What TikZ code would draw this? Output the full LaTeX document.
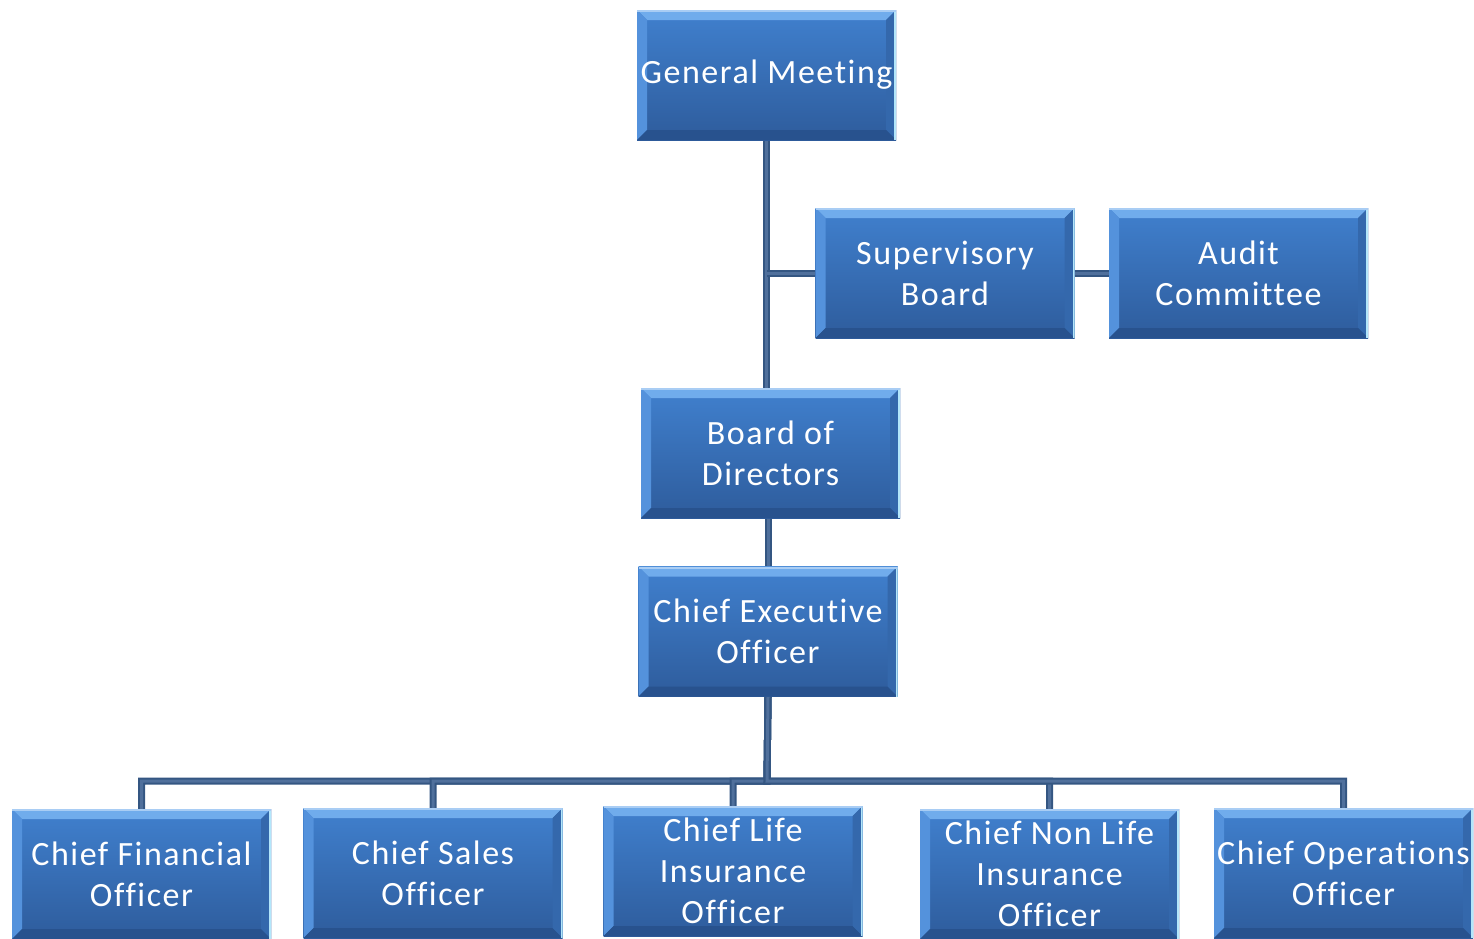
\documentclass[tikz,border=0pt]{standalone}
\usepackage{fontspec}
\setmainfont{Carlito}[LetterSpace=4.5,Ligatures={NoCommon}]
\usetikzlibrary{backgrounds,calc}
\definecolor{boxtop}{RGB}{64,128,206}
\definecolor{boxbot}{RGB}{46,92,156}
\definecolor{bevtop}{RGB}{112,172,236}
\definecolor{bevleft}{RGB}{84,146,220}
\definecolor{bevright}{RGB}{52,104,172}
\definecolor{bevbot}{RGB}{40,82,142}
\definecolor{lineout}{RGB}{52,86,130}
\definecolor{linein}{RGB}{80,112,156}
\tikzset{
  orgbox/.style={rectangle, inner sep=0pt, minimum width=259pt, minimum height=130pt,
    top color=boxtop, bottom color=boxbot, text=white, align=center,
    font=\fontsize{34}{41}\selectfont,
    path picture={
      \path (path picture bounding box.north west) coordinate (bnw)
            (path picture bounding box.north east) coordinate (bne)
            (path picture bounding box.south west) coordinate (bsw)
            (path picture bounding box.south east) coordinate (bse);
      \fill[bevtop] (bnw) -- (bne) -- ([shift={(-10pt,-10pt)}]bne) -- ([shift={(10pt,-10pt)}]bnw) -- cycle;
      \fill[bevleft] (bnw) -- ([shift={(10pt,-10pt)}]bnw) -- ([shift={(10pt,10pt)}]bsw) -- (bsw) -- cycle;
      \fill[bevright] (bne) -- ([shift={(-10pt,-10pt)}]bne) -- ([shift={(-10pt,10pt)}]bse) -- (bse) -- cycle;
      \fill[bevbot] (bsw) -- ([shift={(10pt,10pt)}]bsw) -- ([shift={(-10pt,10pt)}]bse) -- (bse) -- cycle;
      \fill[white!70!cyan] ([shift={(-2pt,0pt)}]bne) rectangle (bse);
      \fill[bevtop!60!white] (bnw) rectangle ([shift={(0pt,-2pt)}]bne);
    }},
  conn/.style={draw=lineout, line width=2pt, double=linein, double distance=3pt}
}
\begin{document}
\begin{tikzpicture}[x=1pt,y=-1pt]
\useasboundingbox (0,0) rectangle (1474,938);
\node[orgbox] (gm) at (766.5,75) {General Meeting};
\node[orgbox] (sb) at (945,273) {Supervisory\\Board};
\node[orgbox] (ac) at (1238.5,273) {Audit\\Committee};
\node[orgbox] (bod) at (770.5,453) {Board of\\Directors};
\node[orgbox] (ceo) at (768,631.5) {Chief Executive\\Officer};
\node[orgbox] (cfo) at (141.5,874) {Chief Financial\\Officer};
\node[orgbox] (cso) at (433,873) {Chief Sales\\Officer};
\node[orgbox] (clio) at (733,871) {Chief Life\\Insurance\\Officer};
\node[orgbox] (cnlio) at (1049.5,874) {Chief Non Life\\Insurance\\Officer};
\node[orgbox] (coo) at (1343.5,873) {Chief Operations\\Officer};
\coordinate (bus) at (767,781);
\begin{scope}[on background layer]
  \draw[conn] (gm.south) -- (gm.south |- bod.north);
  \draw[conn] (sb.west) -- (sb.west -| gm.south);
  \draw[conn] (sb.east) -- (ac.west);
  \draw[conn] (bod.south -| ceo.north) -- (ceo.north);
  \draw[conn] (ceo.south) -- (bus) -| (cfo.north);
  \draw[conn] (ceo.south) -- (bus) -| (cso.north);
  \draw[conn] (ceo.south) -- (bus) -| (clio.north);
  \draw[conn] (ceo.south) -- (bus) -| (cnlio.north);
  \draw[conn] (ceo.south) -- (bus) -| (coo.north);
\end{scope}
\end{tikzpicture}
\end{document}
